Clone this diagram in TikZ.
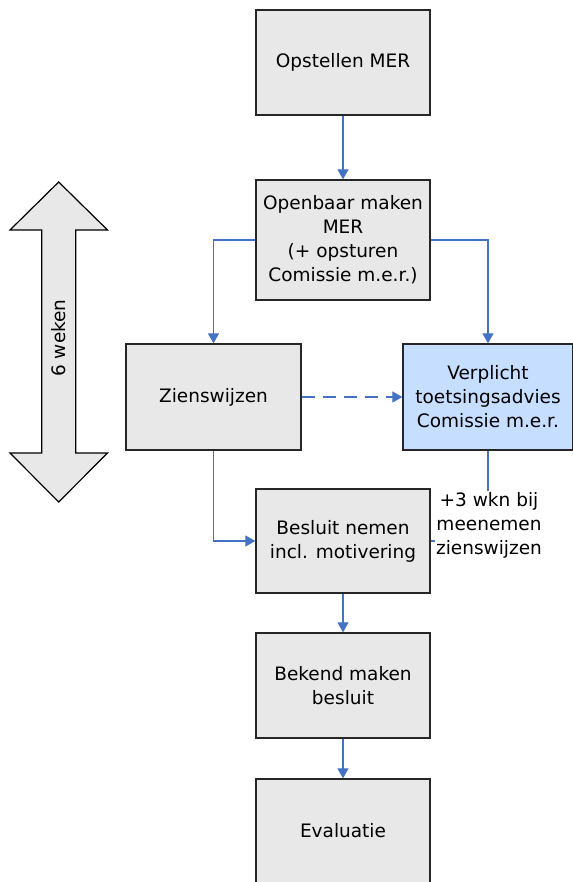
\documentclass[tikz,border=0pt]{standalone}
\usepackage{fontspec}
\setmainfont{DejaVu Sans}
\usetikzlibrary{arrows.meta}
\definecolor{boxgrey}{HTML}{E8E8E8}
\definecolor{adviesblue}{HTML}{C6DEFF}
\definecolor{lijnblue}{HTML}{4472C4}

\begin{document}
\begin{tikzpicture}[x=1pt,y=-1pt,
		tekst/.style={font=\fontsize{18.5}{24}\selectfont},
		box/.style={tekst,draw=black!85,line width=1.3pt,fill=boxgrey,minimum width=174pt,minimum height=105pt,align=center,inner sep=0pt},
		lijn/.style={draw=lijnblue,line width=1.2pt},
		pijl/.style={lijn,-{Triangle[length=10pt,width=11pt]}}]
		\useasboundingbox (0,0) rectangle (572,882);
		\draw[fill=boxgrey,line width=1.2pt] (58.7,182) -- (107.5,230) -- (75.7,230) -- (75.7,453) -- (107.5,453) -- (58.7,502) -- (10,453) -- (41.7,453) -- (41.7,230) -- (10,230) -- cycle;
		\node[tekst,rotate=90] (weken) at (58.7,338) {6 weken};
		\node[box] (opst) at (343,62.5) {Opstellen MER};
		\node[box,minimum height=120pt] (open) at (343,240) {Openbaar maken\\MER\\(+ opsturen\\Comissie m.e.r.)};
		\node[box,minimum width=175pt,minimum height=106pt] (zien) at (213.5,397) {Zienswijzen};
		\node[box,fill=adviesblue,minimum width=170pt,minimum height=106pt] (verp) at (488,397) {Verplicht\\toetsingsadvies\\Comissie m.e.r.};
		\node[box,minimum height=104pt] (besl) at (343,541) {Besluit nemen\\incl. motivering};
		\node[box] (bek) at (343,685.5) {Bekend maken\\besluit};
		\node[box,minimum height=104pt] (eval) at (343,831) {Evaluatie};
		\draw[pijl] (opst) -- (open);
		\draw[pijl] (open.west) -| (zien.north);
		\draw[pijl] (open.east) -| (verp.north);
		\draw[pijl,dash pattern=on 13pt off 8pt] (zien) -- (verp);
		\draw[pijl] (zien.south) |- (besl.west);
		\draw[lijn] (verp.south) |- (besl.east);
		\node[tekst,fill=white,align=center,inner sep=1pt] (extra) at (489,525) {+3 wkn bij\\meenemen\\zienswijzen};
		\draw[pijl] (besl) -- (bek);
		\draw[pijl] (bek) -- (eval);
	\end{tikzpicture}
\end{document}
